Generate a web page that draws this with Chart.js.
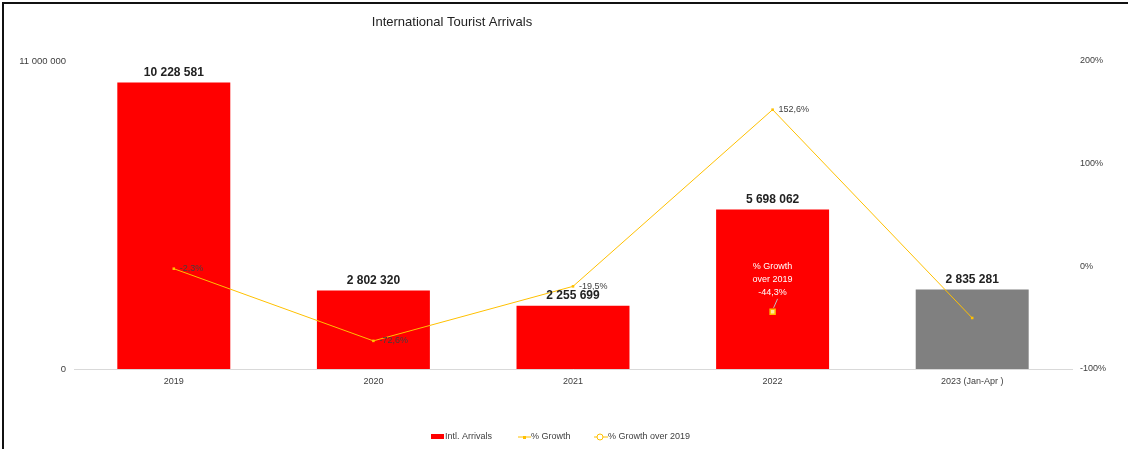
<!DOCTYPE html>
<html>
<head>
<meta charset="utf-8">
<script src="https://cdn.jsdelivr.net/npm/chart.js@4"></script>
<style>
html,body{margin:0;padding:0;background:#fff;}
#wrap{position:relative;width:1128px;height:449px;overflow:hidden;}
#bt{position:absolute;left:2px;top:2px;width:1126px;height:2px;background:#111;}
#bl{position:absolute;left:2px;top:2px;width:2px;height:447px;background:#111;}
canvas{position:absolute;left:0;top:0;}
</style>
</head>
<body>
<div id="wrap">
<canvas id="c" width="1128" height="449"></canvas>
<div id="bt"></div><div id="bl"></div>
</div>
<script>
const chartTitle = 'International Tourist Arrivals';
const categories = ['2019', '2020', '2021', '2022', '2023 (Jan-Apr )'];
const arrivals = [10228581, 2802320, 2255699, 5698062, 2835281];
const growth = [-2.3, -72.6, -19.5, 152.6, -50.3];
const growthLabels = [true, true, true, true, false];
const growthOver2019 = [null, null, null, -44.3, null];
const barColors = ['#FF0000', '#FF0000', '#FF0000', '#FF0000', '#808080'];
const leftTicks = [0, 11000000];
const rightTicks = [-100, 0, 100, 200];
const legendNames = ['Intl. Arrivals', '% Growth', '% Growth over 2019'];

const FONT = '"Liberation Sans", Arial, sans-serif';
const fmtNum = v => Math.round(v).toLocaleString('en-US').replace(/,/g, ' ');
const fmtPct = v => v.toFixed(1).replace('.', ',') + '%';
const LINE = '#FFC000';

const labelsPlugin = {
  id: 'labelsPlugin',
  afterDatasetsDraw(chart) {
    const ctx = chart.ctx;
    ctx.save();
    const bm = chart.getDatasetMeta(0);
    ctx.font = 'bold 12px ' + FONT;
    ctx.fillStyle = '#222';
    ctx.textAlign = 'center';
    ctx.textBaseline = 'bottom';
    bm.data.forEach((el, i) => {
      ctx.fillText(fmtNum(arrivals[i]), el.x, el.y - 4);
    });
    const gm = chart.getDatasetMeta(1);
    ctx.font = '9px ' + FONT;
    ctx.fillStyle = '#404040';
    ctx.textAlign = 'left';
    ctx.textBaseline = 'middle';
    gm.data.forEach((el, i) => {
      if (growthLabels[i]) ctx.fillText(fmtPct(growth[i]), el.x + 6, el.y);
    });
    const om = chart.getDatasetMeta(2);
    om.data.forEach((el, i) => {
      if (growthOver2019[i] == null) return;
      ctx.strokeStyle = '#bfbfbf';
      ctx.lineWidth = 1;
      ctx.beginPath();
      ctx.moveTo(el.x + 5, el.y - 13);
      ctx.lineTo(el.x + 1, el.y - 4);
      ctx.stroke();
      ctx.fillStyle = '#ffffff';
      ctx.textAlign = 'center';
      ctx.textBaseline = 'middle';
      ctx.font = '9px ' + FONT;
      ctx.fillText('% Growth', el.x, el.y - 45);
      ctx.fillText('over 2019', el.x, el.y - 32);
      ctx.fillText(fmtPct(growthOver2019[i]), el.x, el.y - 19);
    });
    ctx.restore();
  },
  afterDraw(chart) {
    const ctx = chart.ctx;
    ctx.save();
    ctx.font = '13px ' + FONT;
    ctx.fillStyle = '#222';
    ctx.textAlign = 'center';
    ctx.textBaseline = 'middle';
    ctx.fillText(chartTitle, 452, 22);
    ctx.font = '9px ' + FONT;
    ctx.textAlign = 'left';
    const ly = 437;
    ctx.fillStyle = '#FF0000';
    ctx.fillRect(431, ly - 3, 13, 5);
    ctx.fillStyle = '#404040';
    ctx.fillText(legendNames[0], 445, ly);
    ctx.strokeStyle = LINE;
    ctx.lineWidth = 1;
    ctx.beginPath(); ctx.moveTo(518, ly); ctx.lineTo(531, ly); ctx.stroke();
    ctx.fillStyle = LINE;
    ctx.fillRect(523, ly - 1, 3, 3);
    ctx.fillStyle = '#404040';
    ctx.fillText(legendNames[1], 531, ly);
    ctx.beginPath(); ctx.moveTo(594, ly); ctx.lineTo(608, ly); ctx.stroke();
    ctx.beginPath(); ctx.arc(600, ly, 3, 0, Math.PI * 2);
    ctx.fillStyle = '#fff'; ctx.fill(); ctx.stroke();
    ctx.fillStyle = '#404040';
    ctx.fillText(legendNames[2], 608, ly);
    ctx.restore();
  }
};

new Chart(document.getElementById('c'), {
  data: {
    labels: categories,
    datasets: [
      {
        type: 'bar', label: legendNames[0], data: arrivals, yAxisID: 'y',
        backgroundColor: barColors, categoryPercentage: 1, barPercentage: 0.566, order: 3
      },
      {
        type: 'line', label: legendNames[1], data: growth, yAxisID: 'y1',
        borderColor: LINE, backgroundColor: LINE, borderWidth: 1,
        pointRadius: 1.8, pointStyle: 'rect', pointBorderWidth: 0, tension: 0, order: 1
      },
      {
        type: 'line', label: legendNames[2], data: growthOver2019, yAxisID: 'y1',
        borderColor: LINE, backgroundColor: '#FFE699', borderWidth: 1,
        pointRadius: 3.5, pointStyle: 'rect', pointBorderColor: LINE, pointBorderWidth: 1.5,
        showLine: false, order: 0
      }
    ]
  },
  options: {
    responsive: false,
    animation: false,
    layout: { padding: { top: 61, bottom: 50, left: 0, right: 0 } },
    plugins: { legend: { display: false }, title: { display: false }, tooltip: { enabled: false } },
    scales: {
      x: {
        offset: true,
        grid: { display: false, drawTicks: false },
        border: { color: '#d9d9d9', width: 1 },
        ticks: { font: { family: FONT, size: 9 }, color: '#404040', padding: 7, maxRotation: 0 },
        afterFit(s) { s.height = 30; }
      },
      y: {
        position: 'left', min: 0, max: 11000000,
        grid: { display: false, drawTicks: false }, border: { display: false },
        afterBuildTicks(s) { s.ticks = leftTicks.map(v => ({ value: v })); },
        ticks: { font: { family: FONT, size: 9.5 }, color: '#404040', padding: 8, callback: v => fmtNum(v) },
        afterFit(s) { s.width = 74; }
      },
      y1: {
        position: 'right', min: -100, max: 200,
        grid: { display: false, drawTicks: false }, border: { display: false },
        afterBuildTicks(s) { s.ticks = rightTicks.map(v => ({ value: v })); },
        ticks: { font: { family: FONT, size: 9 }, color: '#404040', padding: 8, callback: v => v + '%' },
        afterFit(s) { s.width = 56; }
      }
    }
  },
  plugins: [labelsPlugin]
});
</script>
</body>
</html>
